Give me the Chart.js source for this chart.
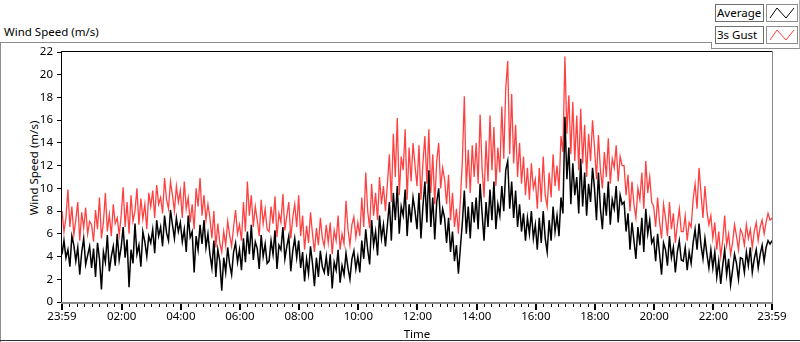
<!DOCTYPE html>
<html>
<head>
<meta charset="utf-8">
<script src="https://cdn.jsdelivr.net/npm/chart.js@4.4.1/dist/chart.umd.min.js"></script>
<style>
  html, body { margin: 0; padding: 0; background: #fff; }
  #wrap { position: relative; width: 800px; height: 342px; overflow: hidden; font-family: "Noto Sans", sans-serif; font-size: 11.5px; color: #000; }
  #frame { position: absolute; left: 0; top: 42px; width: 710px; height: 299px; border-top: 1px solid #8c8c8c; border-left: 1px solid #8c8c8c; }
  #bottomLine { position: absolute; left: 0; top: 340px; width: 800px; height: 1px; background: #333; }
  #legendPanel { position: absolute; left: 711px; top: 0; width: 88px; height: 48px; border-right: 1px solid #b0b0b0; border-bottom: 1px solid #8c8c8c; }
  #legendEdge { position: absolute; left: 711px; top: 42px; width: 1px; height: 7px; background: #8c8c8c; }
  #graphTitle { position: absolute; left: 4px; top: 23px; line-height: 18px; }
  #yTitle { position: absolute; left: 33px; top: 168px; transform: translate(-50%, -50%) rotate(-90deg); white-space: nowrap; }
  .lgLabel { position: absolute; left: 715px; width: 46px; height: 16px; border: 1px solid #6e6e6e; background: #fff; line-height: 16px; padding-left: 1px; box-sizing: content-box; }
  .lgIcon { position: absolute; left: 766px; width: 30px; height: 16px; border: 1px solid #8c8c8c; background: #fff; }
  #chartBox { position: absolute; left: 0; top: 0; width: 800px; height: 342px; }
</style>
</head>
<body>
<div id="wrap">
  <div id="frame"></div>
  <div id="bottomLine"></div>
  <div id="legendPanel"></div>
  <div id="legendEdge"></div>
  <div id="graphTitle">Wind Speed (m/s)</div>
  <div class="lgLabel" style="top:4px;">Average</div>
  <div class="lgIcon" style="top:4px;"><svg width="30" height="16"><polyline points="3,13 10,3 19,13 27,3" fill="none" stroke="#000" stroke-width="1"/></svg></div>
  <div class="lgLabel" style="top:26px;">3s Gust</div>
  <div class="lgIcon" style="top:26px;"><svg width="30" height="16"><polyline points="3,13 10,3 19,13 27,3" fill="none" stroke="#ff4040" stroke-width="1"/></svg></div>
  <div id="yTitle">Wind Speed (m/s)</div>
  <div id="chartBox"><canvas id="windChart" width="800" height="342"></canvas></div>
</div>
<script>
// Data: one sample every 4 minutes starting 23:59 (15 per hour)
const sampleMinutes = 4;

const avgSpeed = [
  4.2, 5.4, 3.9, 4.6, 3.1, 5.8, 5.0, 3.6, 4.8, 2.4, 4.4, 5.6, 3.3, 4.1, 4.9,
  3.0, 4.7, 2.2, 5.2, 3.8, 1.1, 4.4, 3.5, 5.9, 2.7, 4.0, 4.9, 3.2, 6.0, 3.7,
  4.8, 6.6, 3.9, 5.5, 1.3, 4.6, 3.4, 6.9, 4.2, 5.0, 3.1, 6.2, 5.3, 4.0, 5.8,
  5.2, 6.4, 4.3, 7.2, 5.8, 6.6, 4.9, 7.6, 6.1, 5.4, 8.1, 6.8, 5.6, 7.4, 6.2,
  7.0, 5.3, 6.4, 4.4, 7.6, 5.7, 6.2, 2.6, 5.8, 4.6, 6.8, 5.1, 7.2, 4.8, 6.0,
  4.2, 3.0, 5.4, 2.2, 4.6, 3.6, 1.0, 3.9, 2.6, 4.8, 3.3, 2.4, 4.4, 5.2, 3.5,
  4.6, 2.8, 5.6, 3.5, 6.2, 4.2, 6.8, 3.7, 5.3, 4.7, 2.9, 5.9, 4.0, 5.1, 3.4,
  3.6, 5.4, 4.2, 6.3, 2.9, 5.0, 4.6, 6.6, 3.8, 4.9, 5.8, 2.7, 4.5, 5.6, 3.9,
  5.4, 3.0, 4.4, 1.8, 3.8, 2.5, 4.9, 3.4, 1.4, 3.9, 2.2, 4.5, 3.1, 2.6, 4.0,
  2.3, 4.2, 1.2, 3.5, 2.8, 4.6, 1.7, 3.2, 2.4, 4.3, 3.0, 2.0, 3.8, 4.5, 2.9,
  4.0, 2.6, 5.4, 3.8, 6.4, 4.6, 3.3, 7.2, 5.0, 6.2, 4.1, 7.6, 5.6, 6.8, 4.9,
  6.8, 8.8, 5.4, 9.6, 7.2, 10.2, 6.0, 8.4, 7.6, 9.9, 5.8, 8.6, 7.0, 9.2, 8.0,
  6.4, 9.6, 5.6, 8.4, 10.6, 7.0, 11.6, 6.6, 9.2, 5.5, 8.8, 10.0, 6.8, 8.2, 7.4,
  5.2, 7.4, 4.4, 6.2, 3.6, 5.0, 2.5, 4.8, 7.0, 9.8, 6.0, 8.4, 5.6, 8.8, 7.0,
  9.2, 6.4, 10.4, 7.8, 5.4, 8.8, 6.6, 9.9, 7.2, 10.6, 6.4, 8.6, 7.6, 10.2, 8.0,
  11.6, 12.4, 8.2, 10.6, 7.4, 9.8, 6.6, 8.6, 6.2, 7.8, 5.4, 7.4, 6.0, 8.0, 5.6,
  6.8, 4.6, 7.4, 5.2, 8.0, 5.6, 4.4, 7.2, 5.4, 8.4, 6.2, 7.6, 5.8, 9.2, 7.8,
  16.3, 10.8, 13.6, 8.6, 12.2, 9.4, 11.0, 7.8, 12.6, 8.4, 11.4, 7.6, 10.4, 8.8, 11.8,
  10.0, 7.2, 11.4, 8.2, 6.4, 9.6, 7.6, 10.6, 6.8, 9.0, 8.2, 10.2, 7.0, 9.4, 8.6,
  8.8, 6.2, 7.8, 4.6, 7.0, 5.4, 3.8, 6.6, 5.0, 7.4, 4.4, 8.2, 6.0, 7.2, 5.2,
  5.6, 3.6, 6.0, 4.2, 2.4, 5.2, 4.6, 3.2, 5.8, 3.9, 4.8, 2.6, 4.4, 5.4, 3.7,
  3.6, 4.8, 2.8, 4.4, 3.4, 5.2, 6.4, 4.6, 6.9, 5.0, 3.8, 5.6, 4.2, 3.0, 4.6,
  3.0, 4.4, 2.2, 3.6, 1.6, 3.2, 4.6, 2.4, 3.8, 1.5, 2.8, 4.2, 3.4, 2.0, 3.9,
  3.8, 2.6, 4.4, 3.2, 4.8, 2.6, 3.8, 4.6, 3.0, 4.2, 5.0, 3.6, 4.8, 5.4, 5.1,
  5.4
];

const gustSpeed = [
  8.0, 6.2, 7.4, 9.9, 6.6, 8.4, 5.9, 7.2, 8.8, 5.4, 7.9, 6.5, 8.3, 6.0, 7.1,
  6.8, 5.3, 8.1, 6.4, 9.2, 5.6, 7.0, 9.6, 6.2, 7.7, 5.8, 8.6, 6.9, 7.4, 5.9,
  7.6, 10.1, 6.6, 8.8, 6.0, 9.4, 7.1, 8.0, 10.0, 6.8, 9.1, 7.3, 8.6, 6.4, 9.6,
  8.4, 9.8, 7.4, 10.3, 8.6, 9.2, 7.8, 10.9, 9.0, 8.2, 10.6, 9.4, 8.0, 10.2, 8.8,
  9.8, 7.4, 10.6, 8.2, 9.2, 7.0, 8.6, 6.4, 10.0, 8.4, 10.9, 7.6, 9.4, 7.2, 8.6,
  7.4, 5.6, 8.0, 4.8, 6.9, 5.2, 4.4, 6.2, 5.0, 7.1, 5.9, 4.9, 6.6, 8.1, 6.0,
  6.8, 5.4, 8.8, 6.2, 10.6, 7.6, 9.4, 6.6, 8.4, 7.2, 5.8, 9.0, 6.9, 8.2, 6.4,
  6.2, 8.4, 6.9, 9.3, 5.7, 7.8, 7.0, 9.5, 6.3, 7.6, 8.8, 5.6, 7.4, 8.6, 6.6,
  9.4, 5.8, 7.6, 4.6, 6.7, 5.2, 7.9, 6.0, 4.4, 6.5, 5.0, 7.4, 5.6, 4.9, 6.8,
  5.2, 7.0, 4.2, 6.3, 5.4, 7.6, 4.6, 6.0, 5.1, 8.9, 6.4, 5.0, 6.8, 7.5, 5.7,
  7.0, 5.8, 9.2, 6.6, 11.4, 8.0, 6.5, 10.4, 7.6, 9.6, 7.2, 11.0, 8.6, 10.2, 8.0,
  10.4, 13.0, 8.8, 14.8, 11.0, 16.2, 9.4, 12.8, 11.6, 15.2, 9.0, 13.6, 10.6, 14.0, 12.0,
  10.2, 13.8, 9.0, 12.2, 14.6, 10.4, 15.2, 9.6, 13.0, 8.6, 12.4, 14.0, 10.0, 11.8, 10.8,
  8.6, 11.2, 7.2, 9.6, 6.6, 8.2, 6.0, 9.0, 12.4, 18.1, 10.0, 13.4, 9.6, 13.8, 11.0,
  14.0, 10.4, 16.5, 11.8, 9.2, 14.2, 10.6, 16.4, 11.6, 15.4, 10.2, 13.6, 11.4, 17.2, 12.6,
  18.8, 21.2, 13.0, 18.3, 12.2, 15.6, 11.0, 14.0, 10.4, 12.8, 9.4, 11.8, 9.0, 12.2, 10.0,
  10.8, 8.2, 11.8, 8.8, 12.8, 9.4, 8.4, 11.4, 9.2, 13.0, 10.2, 12.0, 9.8, 14.6, 13.2,
  21.6, 14.8, 18.2, 13.0, 17.6, 12.4, 16.4, 11.6, 17.0, 12.2, 15.6, 11.0, 14.8, 12.4, 16.0,
  13.6, 10.8, 14.7, 11.6, 10.0, 13.2, 11.0, 14.4, 10.4, 12.6, 11.8, 13.8, 10.6, 12.8, 12.0,
  12.0, 9.4, 11.2, 8.0, 10.6, 8.6, 7.4, 10.0, 9.0, 11.4, 8.2, 12.4, 9.6, 11.0, 8.8,
  8.4, 6.6, 9.2, 7.0, 5.6, 8.6, 7.4, 5.8, 8.8, 6.4, 7.8, 5.2, 6.8, 8.2, 6.2,
  6.2, 7.6, 5.4, 7.0, 6.6, 9.0, 10.4, 8.2, 11.8, 9.6, 7.4, 10.2, 8.0, 6.8, 7.6,
  5.6, 7.0, 4.6, 6.2, 4.0, 5.4, 7.6, 5.0, 6.0, 4.2, 5.2, 6.8, 5.8, 4.6, 6.4,
  6.0, 5.0, 6.8, 5.6, 6.4, 4.8, 6.2, 7.0, 5.4, 6.6, 7.2, 6.0, 7.0, 7.8, 7.2,
  7.4
];

// X axis labels (minutes after 23:59)
const tickMinutes = [0, 121, 241, 361, 481, 601, 721, 841, 961, 1081, 1201, 1321, 1440];
const tickLabels = ["23:59", "02:00", "04:00", "06:00", "08:00", "10:00", "12:00",
                    "14:00", "16:00", "18:00", "20:00", "22:00", "23:59"];
const minorPerMajor = 8;

const toPoints = (arr) => arr.map((v, i) => ({ x: i * sampleMinutes, y: v }));

// draws the inset plot frame and the major/minor time ticks
const frameTicks = {
  id: "frameTicks",
  afterDraw(chart) {
    const { ctx, chartArea: a, scales } = chart;
    const xs = scales.x;
    ctx.save();
    ctx.fillStyle = "#000";
    ctx.fillRect(a.left - 1, a.top - 1, a.right - a.left + 1, 1);
    ctx.fillRect(a.left - 1, a.top - 1, 1, a.bottom - a.top + 2);
    ctx.fillStyle = "#8a8a8a";
    ctx.fillRect(a.left - 1, a.bottom, a.right - a.left + 2, 2);
    ctx.fillRect(a.right, a.top - 1, 1, a.bottom - a.top + 2);
    ctx.fillStyle = "#000";
    for (let i = 0; i < tickMinutes.length; i++) {
      const px = Math.round(xs.getPixelForValue(tickMinutes[i]));
      ctx.fillRect(px - 1, a.bottom + 2, 2, 6);
      if (i < tickMinutes.length - 1) {
        const step = (tickMinutes[i + 1] - tickMinutes[i]) / minorPerMajor;
        for (let k = 1; k < minorPerMajor; k++) {
          const mx = Math.round(xs.getPixelForValue(tickMinutes[i] + k * step));
          ctx.fillRect(mx, a.bottom + 2, 1, 3);
        }
      }
    }
    ctx.restore();
  },
};

Chart.defaults.font.family = "Noto Sans";
Chart.defaults.font.size = 11.5;
Chart.defaults.color = "#000";

new Chart(document.getElementById("windChart").getContext("2d"), {
  type: "line",
  data: {
    datasets: [
      {
        label: "Average",
        data: toPoints(avgSpeed),
        borderColor: "#000",
        borderWidth: 1.5,
        pointRadius: 0,
        tension: 0,
      },
      {
        label: "3s Gust",
        data: toPoints(gustSpeed),
        borderColor: "#ff4040",
        borderWidth: 1.3,
        pointRadius: 0,
        tension: 0,
      },
    ],
  },
  options: {
    responsive: false,
    animation: false,
    events: [],
    layout: { padding: { top: 52, right: 28, bottom: 0, left: 0 } },
    plugins: { legend: { display: false }, tooltip: { enabled: false } },
    scales: {
      x: {
        type: "linear",
        min: 0,
        max: 1440,
        afterBuildTicks: (scale) => {
          scale.ticks = tickMinutes.map((v) => ({ value: v }));
        },
        afterFit: (scale) => { scale.height = 40; },
        ticks: {
          autoSkip: false,
          maxRotation: 0,
          padding: 8,
          callback: (v, i) => tickLabels[i],
        },
        grid: { drawOnChartArea: false, drawTicks: false },
        border: { display: false },
        title: { display: true, text: "Time", padding: { top: 0, bottom: 0 } },
      },
      y: {
        min: 0,
        max: 22,
        afterFit: (scale) => { scale.width = 62; },
        ticks: { stepSize: 2, padding: 4 },
        grid: { drawOnChartArea: false, drawTicks: true, tickLength: 5, color: "#000" },
        border: { display: false },
      },
    },
  },
  plugins: [frameTicks],
});
</script>
</body>
</html>
